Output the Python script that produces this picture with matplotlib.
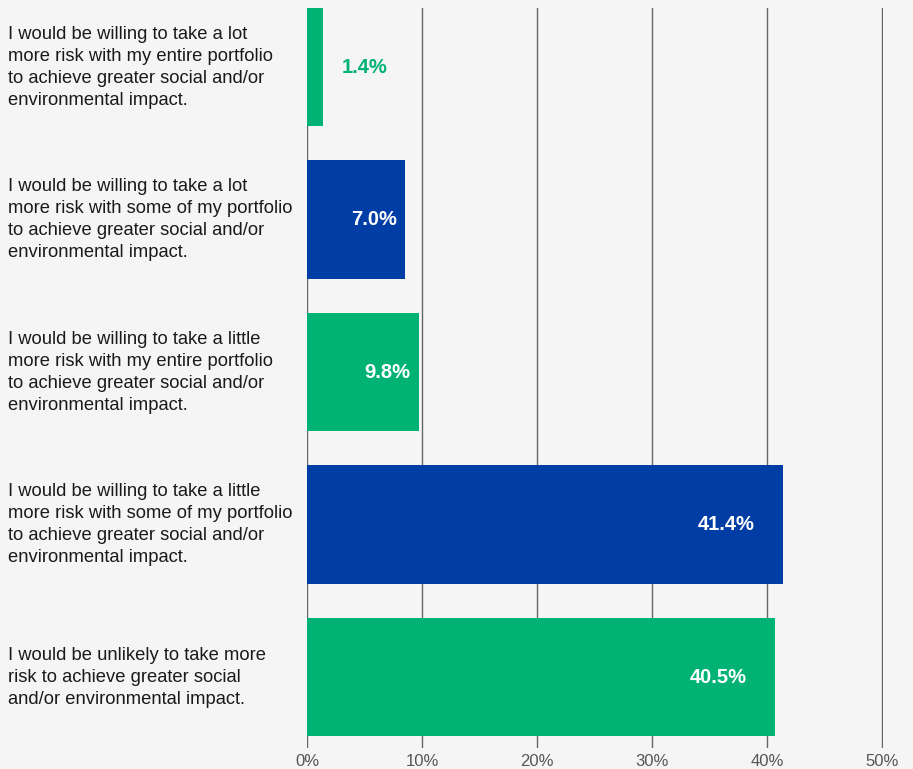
import matplotlib.pyplot as plt
import matplotlib.transforms as mtransforms

# survey answers, top to bottom
labels = [
    "I would be willing to take a lot\nmore risk with my entire portfolio\nto achieve greater social and/or\nenvironmental impact.",
    "I would be willing to take a lot\nmore risk with some of my portfolio\nto achieve greater social and/or\nenvironmental impact.",
    "I would be willing to take a little\nmore risk with my entire portfolio\nto achieve greater social and/or\nenvironmental impact.",
    "I would be willing to take a little\nmore risk with some of my portfolio\nto achieve greater social and/or\nenvironmental impact.",
    "I would be unlikely to take more\nrisk to achieve greater social\nand/or environmental impact.",
]
# printed percentages
value_labels = ["1.4%", "7.0%", "9.8%", "41.4%", "40.5%"]
# bar lengths as drawn in the original (the 7.0% bar is drawn longer)
bar_lengths = [1.4, 8.5, 9.7, 41.4, 40.7]
colors = ["#00b274", "#003da5", "#00b274", "#003da5", "#00b274"]
ticks = [0, 10, 20, 30, 40, 50]

BG = "#f5f5f5"
plt.rcParams["font.family"] = ["Liberation Sans", "DejaVu Sans"]

fig = plt.figure(figsize=(9.13, 7.69), dpi=100, facecolor=BG)
ax = fig.add_axes([307 / 913, 21 / 769, 576 / 913, 740 / 769])
ax.set_facecolor(BG)

ypos = list(range(len(bar_lengths)))
ax.barh(ypos, bar_lengths, height=0.775, color=colors, zorder=3)
ax.set_ylim(4.465, -0.3875)
ax.set_xlim(0, 50.1)

ax.set_xticks(ticks)
ax.set_xticklabels([f"{t}%" for t in ticks], fontsize=12, color="#555555")
ax.tick_params(axis="x", length=0, pad=4)
ax.set_yticks([])
for s in ax.spines.values():
    s.set_visible(False)
ax.grid(axis="x", color="#666666", linewidth=1.0, zorder=1)

# category text on the left
tr = mtransforms.blended_transform_factory(fig.transFigure, ax.transData)
for y, lab in zip(ypos, labels):
    ax.text(8 / 913, y, lab, transform=tr, ha="left", va="center",
            fontsize=13.2, color="#1a1a1a", linespacing=1.38)

# value labels
for y, v, txt, c in zip(ypos, bar_lengths, value_labels, colors):
    if v < 5:
        ax.annotate(txt, (v, y), xytext=(19, 0), textcoords="offset pixels",
                    ha="left", va="center", fontsize=14.5, fontweight="bold", color=c)
    else:
        off = -28 if v > 20 else -8
        ax.annotate(txt, (v, y), xytext=(off, 0), textcoords="offset pixels",
                    ha="right", va="center", fontsize=14.5, fontweight="bold",
                    color="white", zorder=4)

fig.savefig("out.png", dpi=100, facecolor=BG)
